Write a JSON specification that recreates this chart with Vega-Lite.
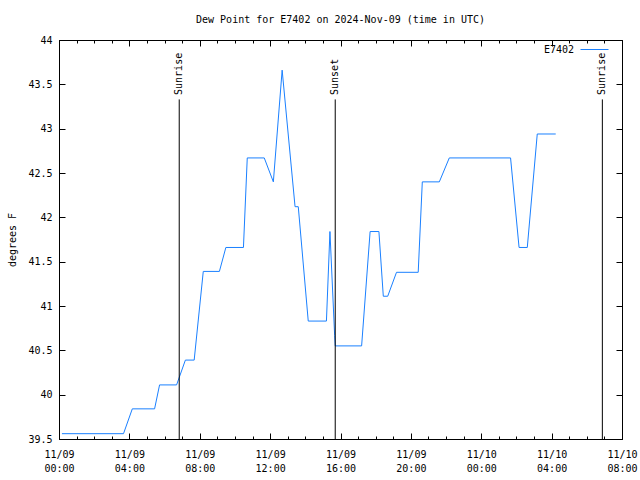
{
  "$schema": "https://vega.github.io/schema/vega-lite/v6.json",
  "width": 563,
  "height": 399,
  "autosize": "none",
  "padding": {"left": 59, "top": 40, "right": 18, "bottom": 41},
  "background": "white",
  "title": {"text": "Dew Point for E7402 on 2024-Nov-09 (time in UTC)", "font": "DejaVu Sans Mono", "fontSize": 10, "fontWeight": "normal", "color": "black", "anchor": "middle", "offset": 10},
  "config": {
    "view": {"stroke": "black", "strokeWidth": 1},
    "axis": {"labelFont": "DejaVu Sans Mono", "labelFontSize": 10, "labelColor": "black", "titleFont": "DejaVu Sans Mono", "titleFontSize": 10, "titleFontWeight": "normal", "titleColor": "black", "domainColor": "black", "tickColor": "black", "grid": false}
  },
  "datasets": {
    "dew": [
      {"t": "2024-11-09T00:10:00Z", "v": 39.56, "station": "E7402"},
      {"t": "2024-11-09T03:40:00Z", "v": 39.56, "station": "E7402"},
      {"t": "2024-11-09T04:10:00Z", "v": 39.84, "station": "E7402"},
      {"t": "2024-11-09T05:26:00Z", "v": 39.84, "station": "E7402"},
      {"t": "2024-11-09T05:43:00Z", "v": 40.11, "station": "E7402"},
      {"t": "2024-11-09T06:41:00Z", "v": 40.11, "station": "E7402"},
      {"t": "2024-11-09T07:11:00Z", "v": 40.39, "station": "E7402"},
      {"t": "2024-11-09T07:41:00Z", "v": 40.39, "station": "E7402"},
      {"t": "2024-11-09T08:12:00Z", "v": 41.39, "station": "E7402"},
      {"t": "2024-11-09T09:07:00Z", "v": 41.39, "station": "E7402"},
      {"t": "2024-11-09T09:29:00Z", "v": 41.66, "station": "E7402"},
      {"t": "2024-11-09T10:29:00Z", "v": 41.66, "station": "E7402"},
      {"t": "2024-11-09T10:42:00Z", "v": 42.67, "station": "E7402"},
      {"t": "2024-11-09T11:40:00Z", "v": 42.67, "station": "E7402"},
      {"t": "2024-11-09T12:11:00Z", "v": 42.40, "station": "E7402"},
      {"t": "2024-11-09T12:41:00Z", "v": 43.66, "station": "E7402"},
      {"t": "2024-11-09T13:25:00Z", "v": 42.12, "station": "E7402"},
      {"t": "2024-11-09T13:36:00Z", "v": 42.12, "station": "E7402"},
      {"t": "2024-11-09T14:10:00Z", "v": 40.83, "station": "E7402"},
      {"t": "2024-11-09T15:12:00Z", "v": 40.83, "station": "E7402"},
      {"t": "2024-11-09T15:24:00Z", "v": 41.84, "station": "E7402"},
      {"t": "2024-11-09T15:40:00Z", "v": 40.67, "station": "E7402"},
      {"t": "2024-11-09T15:42:00Z", "v": 40.55, "station": "E7402"},
      {"t": "2024-11-09T17:12:00Z", "v": 40.55, "station": "E7402"},
      {"t": "2024-11-09T17:41:00Z", "v": 41.84, "station": "E7402"},
      {"t": "2024-11-09T18:11:00Z", "v": 41.84, "station": "E7402"},
      {"t": "2024-11-09T18:26:00Z", "v": 41.11, "station": "E7402"},
      {"t": "2024-11-09T18:41:00Z", "v": 41.11, "station": "E7402"},
      {"t": "2024-11-09T19:11:00Z", "v": 41.38, "station": "E7402"},
      {"t": "2024-11-09T20:25:00Z", "v": 41.38, "station": "E7402"},
      {"t": "2024-11-09T20:39:00Z", "v": 42.40, "station": "E7402"},
      {"t": "2024-11-09T21:37:00Z", "v": 42.40, "station": "E7402"},
      {"t": "2024-11-09T22:11:00Z", "v": 42.67, "station": "E7402"},
      {"t": "2024-11-10T01:40:00Z", "v": 42.67, "station": "E7402"},
      {"t": "2024-11-10T02:09:00Z", "v": 41.66, "station": "E7402"},
      {"t": "2024-11-10T02:37:00Z", "v": 41.66, "station": "E7402"},
      {"t": "2024-11-10T03:11:00Z", "v": 42.94, "station": "E7402"},
      {"t": "2024-11-10T04:14:00Z", "v": 42.94, "station": "E7402"}
    ],
    "sun": [
      {"t": "2024-11-09T06:50:00Z", "label": "Sunrise"},
      {"t": "2024-11-09T15:42:00Z", "label": "Sunset"},
      {"t": "2024-11-10T06:53:00Z", "label": "Sunrise"}
    ]
  },
  "resolve": {"axis": {"x": "independent", "y": "independent"}},
  "layer": [
    {
      "data": {"name": "dew"},
      "mark": {"type": "line", "strokeWidth": 1, "color": "#1a80ff"},
      "encoding": {
        "x": {
          "field": "t", "type": "temporal",
          "scale": {"type": "utc", "domain": ["2024-11-09T00:00:00Z", "2024-11-10T08:00:00Z"]},
          "axis": {
            "orient": "bottom", "title": null,
            "values": ["2024-11-09T00:00:00Z", "2024-11-09T01:00:00Z", "2024-11-09T02:00:00Z", "2024-11-09T03:00:00Z", "2024-11-09T04:00:00Z", "2024-11-09T05:00:00Z", "2024-11-09T06:00:00Z", "2024-11-09T07:00:00Z", "2024-11-09T08:00:00Z", "2024-11-09T09:00:00Z", "2024-11-09T10:00:00Z", "2024-11-09T11:00:00Z", "2024-11-09T12:00:00Z", "2024-11-09T13:00:00Z", "2024-11-09T14:00:00Z", "2024-11-09T15:00:00Z", "2024-11-09T16:00:00Z", "2024-11-09T17:00:00Z", "2024-11-09T18:00:00Z", "2024-11-09T19:00:00Z", "2024-11-09T20:00:00Z", "2024-11-09T21:00:00Z", "2024-11-09T22:00:00Z", "2024-11-09T23:00:00Z", "2024-11-10T00:00:00Z", "2024-11-10T01:00:00Z", "2024-11-10T02:00:00Z", "2024-11-10T03:00:00Z", "2024-11-10T04:00:00Z", "2024-11-10T05:00:00Z", "2024-11-10T06:00:00Z", "2024-11-10T07:00:00Z", "2024-11-10T08:00:00Z"],
            "tickSize": -6,
            "tickDash": {"condition": {"test": "utchours(datum.value) % 4 != 0", "value": [3, 6]}, "value": [6, 6]},
            "labelExpr": "utchours(datum.value) % 4 == 0 ? [utcFormat(datum.value, '%m/%d'), utcFormat(datum.value, '%H:%M')] : ''",
            "labelLineHeight": 14,
            "labelPadding": 16,
            "labelFlush": false,
            "labelOverlap": false
          }
        },
        "y": {
          "field": "v", "type": "quantitative",
          "scale": {"domain": [39.5, 44], "nice": false, "zero": false},
          "axis": {"orient": "left", "title": "degrees F", "values": [39.5, 40, 40.5, 41, 41.5, 42, 42.5, 43, 43.5, 44], "format": "~g", "tickSize": -6, "labelPadding": 13, "titlePadding": 10}
        },
        "color": {
          "field": "station", "type": "nominal",
          "scale": {"range": ["#1a80ff"]},
          "legend": {"title": null, "orient": "none", "legendX": 521, "legendY": -5, "symbolType": "stroke", "symbolSize": 784, "symbolStrokeWidth": 1, "symbolStrokeColor": "#1a80ff", "labelAlign": "right", "labelOffset": -35, "labelFont": "DejaVu Sans Mono", "labelFontSize": 10, "labelColor": "black", "padding": 0}
        }
      }
    },
    {
      "data": {"name": "sun"},
      "mark": {"type": "rule", "color": "black", "strokeWidth": 1},
      "encoding": {
        "x": {
          "field": "t", "type": "temporal",
          "axis": {
            "orient": "top", "title": null, "labels": false,
            "values": ["2024-11-09T00:00:00Z", "2024-11-09T01:00:00Z", "2024-11-09T02:00:00Z", "2024-11-09T03:00:00Z", "2024-11-09T04:00:00Z", "2024-11-09T05:00:00Z", "2024-11-09T06:00:00Z", "2024-11-09T07:00:00Z", "2024-11-09T08:00:00Z", "2024-11-09T09:00:00Z", "2024-11-09T10:00:00Z", "2024-11-09T11:00:00Z", "2024-11-09T12:00:00Z", "2024-11-09T13:00:00Z", "2024-11-09T14:00:00Z", "2024-11-09T15:00:00Z", "2024-11-09T16:00:00Z", "2024-11-09T17:00:00Z", "2024-11-09T18:00:00Z", "2024-11-09T19:00:00Z", "2024-11-09T20:00:00Z", "2024-11-09T21:00:00Z", "2024-11-09T22:00:00Z", "2024-11-09T23:00:00Z", "2024-11-10T00:00:00Z", "2024-11-10T01:00:00Z", "2024-11-10T02:00:00Z", "2024-11-10T03:00:00Z", "2024-11-10T04:00:00Z", "2024-11-10T05:00:00Z", "2024-11-10T06:00:00Z", "2024-11-10T07:00:00Z", "2024-11-10T08:00:00Z"],
            "tickSize": -6,
            "tickDash": {"condition": {"test": "utchours(datum.value) % 4 != 0", "value": [3, 6]}, "value": [6, 6]}
          }
        },
        "y": {"datum": 39.5, "type": "quantitative", "axis": {"orient": "right", "title": null, "labels": false, "values": [39.5, 40, 40.5, 41, 41.5, 42, 42.5, 43, 43.5, 44], "tickSize": -6}},
        "y2": {"datum": 43.33}
      }
    },
    {
      "data": {"name": "sun"},
      "mark": {"type": "text", "angle": 270, "align": "left", "baseline": "middle", "font": "DejaVu Sans Mono", "fontSize": 10, "color": "black"},
      "encoding": {
        "x": {"field": "t", "type": "temporal", "axis": null},
        "y": {"datum": 43.38, "type": "quantitative", "axis": null},
        "text": {"field": "label"}
      }
    }
  ]
}
